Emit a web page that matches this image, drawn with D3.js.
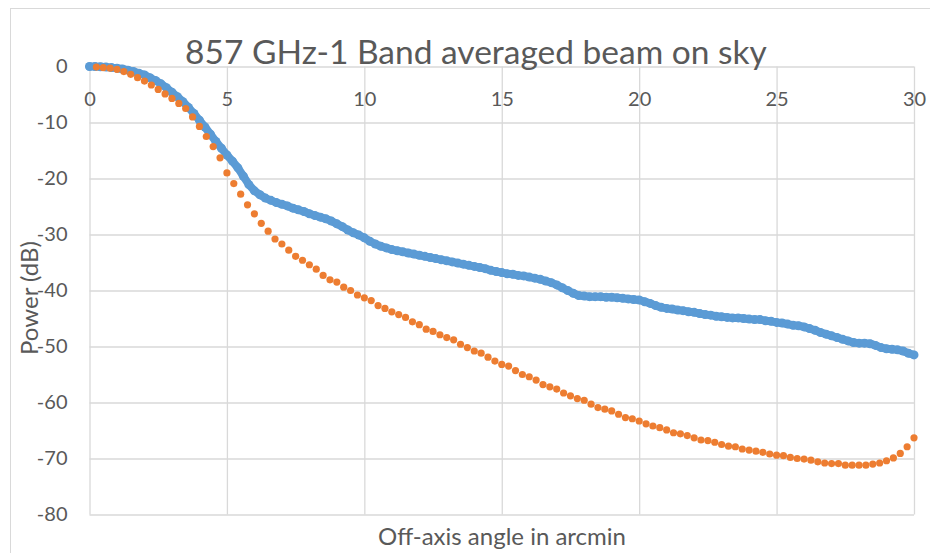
<!DOCTYPE html>
<html>
<head>
<meta charset="utf-8">
<script src="https://cdn.jsdelivr.net/npm/d3@7"></script>
<style>
  html, body { margin: 0; padding: 0; background: #fff; }
  svg { display: block; }
  text { font-family: Lato, "Open Sans", sans-serif; fill: #595959; }
</style>
</head>
<body>
<svg id="chart" width="930" height="553"></svg>
<script>
const title = "857 GHz-1 Band averaged beam on sky";
const xTitle = "Off-axis angle in arcmin";
const yTitle = "Power (dB)";
const xTicks = [0, 5, 10, 15, 20, 25, 30];
const yTicks = [0, -10, -20, -30, -40, -50, -60, -70, -80];

// Blue series: angle 0..30 in steps of 0.2 arcmin
const blueX = d3.range(0, 151).map(i => +(i * 0.2).toFixed(2));
const blueY = [
  0, -0.02, -0.05, -0.1, -0.2, -0.3, -0.45, -0.65, -0.9, -1.2,
  -1.5, -2.0, -2.5, -3.1, -3.8, -4.6, -5.4, -6.3, -7.3, -8.4,
  -9.6, -10.8, -12.1, -13.4, -14.6, -15.8, -16.9, -18.1, -19.6, -21.1,
  -22.2, -22.9, -23.5, -23.9, -24.3, -24.6, -24.9, -25.3, -25.6, -25.9,
  -26.3, -26.6, -26.9, -27.2, -27.6, -28.1, -28.6, -29.2, -29.7, -30.1,
  -30.6, -31.2, -31.7, -32.1, -32.4, -32.7, -32.9, -33.1, -33.3, -33.5,
  -33.7, -33.9, -34.1, -34.3, -34.5, -34.7, -34.9, -35.1, -35.3, -35.5,
  -35.7, -35.9, -36.1, -36.4, -36.6, -36.8, -37.0, -37.1, -37.3, -37.4,
  -37.6, -37.8, -38.0, -38.3, -38.6, -39.0, -39.5, -40.0, -40.5, -40.9,
  -41.0, -41.1, -41.1, -41.1, -41.2, -41.2, -41.3, -41.4, -41.5, -41.6,
  -41.7, -42.0, -42.3, -42.7, -43.0, -43.2, -43.3, -43.5, -43.6, -43.8,
  -43.9, -44.1, -44.3, -44.4, -44.6, -44.7, -44.8, -44.9, -44.9, -45.0,
  -45.1, -45.2, -45.2, -45.4, -45.5, -45.7, -45.8, -46.0, -46.2, -46.3,
  -46.5, -46.8, -47.1, -47.5, -47.8, -48.1, -48.4, -48.7, -49.0, -49.3,
  -49.4, -49.4, -49.5, -49.8, -50.2, -50.4, -50.5, -50.6, -50.8, -51.2,
  -51.5
];

// Orange series: angle 0.25..30 in steps of 0.25 arcmin
const orangeX = d3.range(1, 121).map(i => i * 0.25);
const orangeY = [
  -0.1, -0.2, -0.3, -0.5, -0.9, -1.4, -2.0, -2.6, -3.3, -4.1,
  -4.9, -5.7, -6.6, -7.5, -9.0, -10.7, -12.5, -14.3, -16.3, -19.0,
  -20.9, -22.8, -24.7, -26.3, -28.0, -29.4, -30.8, -31.7, -32.8, -33.9,
  -34.6, -35.4, -36.2, -37.3, -38.1, -38.5, -39.4, -40.0, -40.8, -41.3,
  -41.8, -42.7, -43.2, -43.8, -44.3, -44.8, -45.6, -46.1, -46.9, -47.3,
  -47.9, -48.4, -48.8, -49.6, -50.2, -50.8, -51.2, -51.9, -52.6, -53.2,
  -53.5, -54.3, -55.0, -55.4, -56.0, -56.8, -57.2, -57.6, -58.3, -58.8,
  -59.3, -59.6, -60.3, -60.9, -61.2, -61.5, -62.1, -62.7, -62.9, -63.3,
  -63.8, -64.2, -64.5, -64.9, -65.4, -65.6, -65.9, -66.3, -66.7, -66.8,
  -67.1, -67.5, -67.8, -67.9, -68.3, -68.5, -68.7, -68.9, -69.2, -69.4,
  -69.5, -69.8, -70.0, -70.1, -70.3, -70.6, -70.8, -70.9, -70.9, -71.2,
  -71.2, -71.2, -71.2, -71.0, -70.8, -70.4, -69.9, -69.1, -67.9, -66.3
];

const svg = d3.select("#chart");
const W = 930, H = 553;
const pLeft = 89.5, pRight = 914, pTop = 66.5, pBottom = 514.5;
const fmt = d => String(d);   // plain hyphen-minus like the reference

svg.append("rect").attr("width", W).attr("height", H).attr("fill", "#fff");
svg.append("rect").attr("x", 10.5).attr("y", 8.5).attr("width", 940).attr("height", 560)
  .attr("fill", "none").attr("stroke", "#d9d9d9").attr("stroke-width", 1);

const x = d3.scaleLinear().domain([0, 30]).range([pLeft, pRight]);
const y = d3.scaleLinear().domain([-80, 0]).range([pBottom, pTop]);

// grid lines
const gx = svg.append("g").attr("transform", `translate(0,${pTop})`)
  .call(d3.axisBottom(x).tickValues(xTicks).tickSize(pBottom - pTop).tickFormat(""));
const gy = svg.append("g").attr("transform", `translate(${pLeft},0)`)
  .call(d3.axisLeft(y).tickValues(yTicks).tickSize(-(pRight - pLeft)).tickFormat(""));
[gx, gy].forEach(g => {
  g.select(".domain").remove();
  g.selectAll(".tick line").attr("stroke", "#d9d9d9").attr("stroke-width", 1.3);
});

// tick labels
const lx = svg.append("g").attr("transform", `translate(0,${y(0)})`)
  .call(d3.axisBottom(x).tickValues(xTicks).tickSize(0).tickPadding(25.5).tickFormat(fmt));
const ly = svg.append("g").attr("transform", `translate(${pLeft},0)`)
  .call(d3.axisLeft(y).tickValues(yTicks).tickSize(0).tickPadding(22).tickFormat(fmt));
[lx, ly].forEach(g => {
  g.select(".domain").remove();
  g.selectAll("text").attr("font-family", "Lato, 'Open Sans', sans-serif")
    .attr("font-size", 20).attr("fill", "#595959");
});

// series
const blue = blueX.map((a, i) => [a, blueY[i]]);
const orange = orangeX.map((a, i) => [a, orangeY[i]]);

// dense blue markers merge into a band
svg.append("path").datum(blue)
  .attr("d", d3.line().x(d => x(d[0])).y(d => y(d[1])))
  .attr("fill", "none").attr("stroke", "#5b9bd5").attr("stroke-width", 8)
  .attr("stroke-linejoin", "round").attr("stroke-linecap", "round");
svg.append("g").selectAll("circle").data(blue).join("circle")
  .attr("cx", d => x(d[0])).attr("cy", d => y(d[1])).attr("r", 4.5)
  .attr("fill", "#5b9bd5");
svg.append("g").selectAll("circle").data(orange).join("circle")
  .attr("cx", d => x(d[0])).attr("cy", d => y(d[1])).attr("r", 3.6)
  .attr("fill", "#ed7d31");

// titles
svg.append("text").attr("x", 476).attr("y", 64).attr("text-anchor", "middle")
  .attr("font-size", 33.5).text(title);
svg.append("text").attr("x", 502).attr("y", 545).attr("text-anchor", "middle")
  .attr("font-size", 24).text(xTitle);
svg.append("text").attr("transform", "translate(38,298) rotate(-90)")
  .attr("text-anchor", "middle").attr("font-size", 24).text(yTitle);
</script>
</body>
</html>
